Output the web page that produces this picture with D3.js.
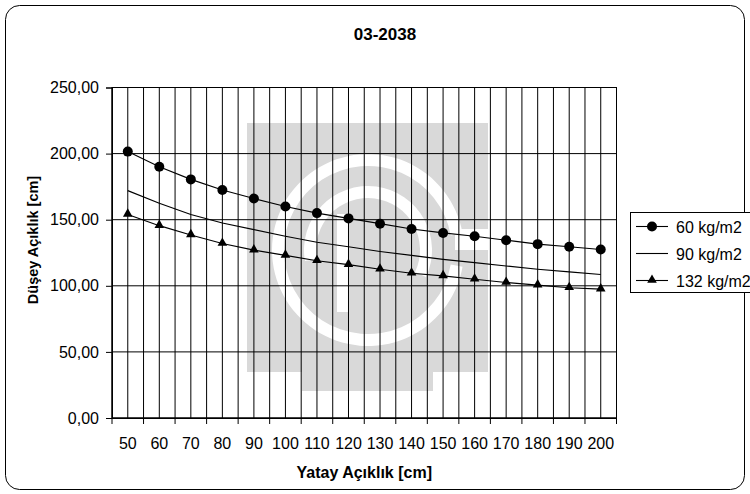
<!DOCTYPE html>
<html>
<head>
<meta charset="utf-8">
<script src="https://cdn.jsdelivr.net/npm/d3@7"></script>
<style>
  html, body { margin: 0; padding: 0; background: #fff; }
  svg { display: block; font-family: "Liberation Sans", Arial, sans-serif; }
</style>
</head>
<body>
<svg id="chart" width="750" height="494"></svg>
<script>
// ---- data ----
const categories = [50, 60, 70, 80, 90, 100, 110, 120, 130, 140, 150, 160, 170, 180, 190, 200];
const series60  = [201.5, 190, 180.5, 172.5, 166, 160, 155, 151, 147, 143, 140, 137.5, 134.5, 131.5, 129.5, 127.5];
const series90  = [172, 162.5, 154, 147.5, 142.5, 137.5, 133, 129.5, 126, 123, 120, 117.5, 115, 112.5, 110.5, 108.5];
const series132 = [154, 145.5, 138.5, 132, 127, 123, 119, 116, 112.5, 109.5, 107.5, 105, 102.5, 100.5, 98.5, 97.5];
const yTicks = [0, 50, 100, 150, 200, 250];
const seriesNames = ["60 kg/m2", "90 kg/m2", "132 kg/m2"];
const chartTitle = "03-2038";
const xTitle = "Yatay Açıklık [cm]";
const yTitle = "Düşey Açıklık [cm]";

const svg = d3.select("#chart");
const L = 112, R = 616.5, T = 87.5, B = 418;

// outer frame
svg.append("rect").attr("x", 5.5).attr("y", 5.5).attr("width", 739).attr("height", 484)
  .attr("rx", 14).attr("fill", "#fff").attr("stroke", "#000").attr("stroke-width", 1);

const x = d3.scaleBand().domain(categories).range([L, R]).paddingInner(0).paddingOuter(0);
const y = d3.scaleLinear().domain([0, 250]).range([B, T]);
const bw = x.bandwidth();

// ---- watermark (background logo) ----
const wm = svg.append("g");
const g1 = "#d9d9d9";
wm.append("rect").attr("x", 247).attr("y", 123).attr("width", 241).attr("height", 249).attr("fill", g1);
wm.append("rect").attr("x", 302).attr("y", 370).attr("width", 131).attr("height", 21).attr("fill", g1);
const arc = d3.arc();
const cx = 368, cy = 250;
wm.append("path").attr("transform", `translate(${cx},${cy})`)
  .attr("d", arc({innerRadius: 84, outerRadius: 96, startAngle: 100 * Math.PI / 180, endAngle: 440 * Math.PI / 180}))
  .attr("fill", "#fff");
wm.append("rect").attr("x", 455).attr("y", 229).attr("width", 33).attr("height", 21).attr("fill", "#fff");
wm.append("path").attr("transform", `translate(${cx},${cy})`)
  .attr("d", arc({innerRadius: 52, outerRadius: 64, startAngle: -100 * Math.PI / 180, endAngle: 115 * Math.PI / 180}))
  .attr("fill", "#fff");
wm.append("rect").attr("x", 337).attr("y", 214).attr("width", 12).attr("height", 98).attr("fill", "#fff");

// ---- gridlines ----
const grid = svg.append("g").attr("stroke", "#000").attr("stroke-width", 1);
grid.selectAll("line.hg").data(yTicks).join("line")
  .attr("x1", L).attr("x2", R).attr("y1", d => y(d)).attr("y2", d => y(d));
grid.selectAll("line.vb").data(categories).join("line")
  .attr("x1", d => x(d)).attr("x2", d => x(d)).attr("y1", T).attr("y2", B);
grid.selectAll("line.vc").data(categories).join("line")
  .attr("x1", d => x(d) + bw / 2).attr("x2", d => x(d) + bw / 2).attr("y1", T).attr("y2", B);

// plot border
svg.append("rect").attr("x", L).attr("y", T).attr("width", R - L).attr("height", B - T)
  .attr("fill", "none").attr("stroke", "#000").attr("stroke-width", 1);

// ---- axes ----
const fmt = d => d3.format(".2f")(d).replace(".", ",");
const yAxis = svg.append("g").attr("transform", `translate(${L},0)`)
  .call(d3.axisLeft(y).tickValues(yTicks).tickSize(6).tickPadding(7).tickFormat(fmt));
yAxis.select(".domain").attr("stroke", "#000");
yAxis.selectAll("line").attr("stroke", "#000");
yAxis.selectAll("text").attr("font-size", 16).attr("fill", "#000")
  .attr("font-family", "Liberation Sans, Arial, sans-serif");

const xAxis = svg.append("g").attr("transform", `translate(0,${B})`)
  .call(d3.axisBottom(x).tickSize(0).tickPadding(19.5));
xAxis.select(".domain").attr("stroke", "#000");
xAxis.selectAll("text").attr("font-size", 16).attr("fill", "#000")
  .attr("font-family", "Liberation Sans, Arial, sans-serif");
// boundary tick marks
const bounds = categories.map(c => x(c)).concat([x(categories[categories.length - 1]) + bw]);
svg.append("g").selectAll("line").data(bounds).join("line")
  .attr("x1", d => d).attr("x2", d => d).attr("y1", B).attr("y2", B + 6).attr("stroke", "#000");

// ---- series ----
const cxp = (d, i) => x(categories[i]) + bw / 2;
const line = d3.line().x(cxp).y(d => y(d));
const sg = svg.append("g");
[series60, series90, series132].forEach(s => {
  sg.append("path").datum(s).attr("d", line).attr("fill", "none").attr("stroke", "#000").attr("stroke-width", 1.1);
});
sg.selectAll("circle.m60").data(series60).join("circle")
  .attr("cx", cxp).attr("cy", d => y(d)).attr("r", 5).attr("fill", "#000");
const tri = d3.symbol().type(d3.symbolTriangle).size(40);
sg.selectAll("path.m132").data(series132).join("path")
  .attr("transform", (d, i) => `translate(${cxp(d, i)},${y(d) - 0.5})`).attr("d", tri).attr("fill", "#000");

// ---- title ----
svg.append("text").attr("x", 385).attr("y", 39.5).attr("text-anchor", "middle")
  .attr("font-size", 17).attr("font-weight", "bold").text(chartTitle);
svg.append("text").attr("x", (L + R) / 2).attr("y", 478).attr("text-anchor", "middle")
  .attr("font-size", 16).attr("font-weight", "bold").text(xTitle);
svg.append("text").attr("transform", "translate(38,240) rotate(-90)").attr("text-anchor", "middle")
  .attr("font-size", 14.5).attr("font-weight", "bold").text(yTitle);

// ---- legend ----
const lg = svg.append("g");
lg.append("rect").attr("x", 630.5).attr("y", 212.5).attr("width", 140).attr("height", 80)
  .attr("fill", "#fff").attr("stroke", "#000");
const rowY = [226.5, 253.5, 280.5];
seriesNames.forEach((n, i) => {
  const gy = rowY[i];
  lg.append("line").attr("x1", 636).attr("x2", 668).attr("y1", gy).attr("y2", gy).attr("stroke", "#000").attr("stroke-width", 1.1);
  if (i === 0) lg.append("circle").attr("cx", 652).attr("cy", gy).attr("r", 5).attr("fill", "#000");
  if (i === 2) lg.append("path").attr("transform", `translate(652,${gy - 0.5})`).attr("d", tri).attr("fill", "#000");
  lg.append("text").attr("x", 676).attr("y", gy + 6).attr("font-size", 16).text(n);
});
</script>
</body>
</html>
